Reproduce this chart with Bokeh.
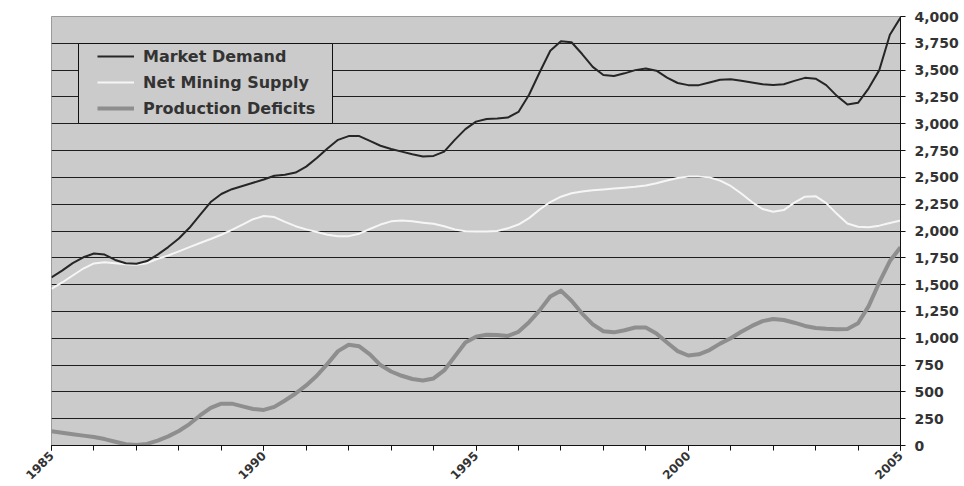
import math
from bokeh.plotting import figure
from bokeh.models import (Range1d, FixedTicker, NumeralTickFormatter, Legend,
                          LegendItem, BoxAnnotation)
from bokeh.embed import file_html
from bokeh.resources import INLINE

# quarter-year sample positions, 1985 .. 2005
years = [1985 + 0.25 * i for i in range(81)]

market_demand = [
    1568, 1630, 1700, 1755, 1790, 1780, 1730, 1700,   # 1985.00-1986.75
    1695, 1720, 1780, 1850, 1930, 2030, 2150, 2270,   # 1987-1988
    2345, 2390, 2420, 2450, 2480, 2515, 2525, 2545,   # 1989-1990
    2600, 2680, 2770, 2850, 2885, 2885, 2840, 2795,   # 1991-1992
    2765, 2740, 2715, 2695, 2700, 2740, 2850, 2950,   # 1993-1994
    3020, 3045, 3050, 3058, 3110, 3270, 3480, 3681,   # 1995-1996
    3770, 3760, 3650, 3530, 3455, 3445, 3470, 3500,   # 1997-1998
    3515, 3495, 3430, 3380, 3360, 3360, 3385, 3410,   # 1999-2000
    3415, 3400, 3385, 3368, 3362, 3368, 3400, 3428,   # 2001-2002
    3420, 3360, 3260, 3180, 3195, 3330, 3500, 3830,   # 2003-2004
    3990,                                             # 2005
]

net_mining_supply = [
    1460, 1520, 1585, 1650, 1698, 1708, 1700, 1690,
    1686, 1700, 1740, 1772, 1810, 1850, 1888, 1925,
    1965, 2010, 2060, 2110, 2140, 2130, 2085, 2045,
    2015, 1990, 1965, 1950, 1952, 1975, 2019, 2060,
    2090, 2097, 2090, 2078, 2068, 2045, 2015, 1997,
    1995, 1995, 2000, 2025, 2060, 2120, 2200, 2270,
    2320, 2352, 2368, 2380, 2388, 2396, 2404, 2412,
    2425, 2445, 2470, 2495, 2507, 2507, 2500, 2470,
    2420, 2350, 2270, 2205, 2180, 2195, 2265, 2320,
    2325, 2260, 2160, 2070, 2040, 2035, 2050, 2075,
    2097,
]

production_deficits = [
    133, 118, 105, 92, 80, 60, 35, 12,
    5, 15, 45, 85, 135, 200, 280, 350,
    390, 390, 365, 340, 332, 360, 420, 485,
    560, 650, 761, 880, 940, 925, 850, 750,
    690, 650, 620, 606, 625, 700, 830, 960,
    1015, 1032, 1030, 1022, 1060, 1150, 1260, 1390,
    1444, 1350, 1230, 1130, 1065, 1055, 1075, 1100,
    1100, 1045, 960, 880, 839, 850, 890, 950,
    1000, 1060, 1115, 1160, 1180, 1170, 1145, 1115,
    1095, 1088, 1085, 1087, 1140, 1300, 1520, 1720,
    1848,
]

series_names = ["Market Demand", "Net Mining Supply", "Production Deficits"]
y_ticks = [0, 250, 500, 750, 1000, 1250, 1500, 1750, 2000, 2250, 2500,
           2750, 3000, 3250, 3500, 3750, 4000]
x_label_ticks = [1985, 1990, 1995, 2000, 2005]
x_minor_ticks = list(range(1985, 2006))

p = figure(width=964, height=486, x_range=Range1d(1985, 2005),
           y_range=Range1d(0, 4000), output_backend="svg",
           toolbar_location=None, y_axis_location="right",
           min_border_left=51, min_border_right=64,
           min_border_top=16, min_border_bottom=41)

p.background_fill_color = "#cbcbcb"
p.border_fill_color = "white"
p.outline_line_color = "#9a9a9a"
p.outline_line_width = 1

p.xgrid.visible = False
p.ygrid.ticker = FixedTicker(ticks=y_ticks[1:-1])
p.ygrid.grid_line_color = "#1e1e1e"
p.ygrid.grid_line_width = 1

ya = p.yaxis[0]
ya.ticker = FixedTicker(ticks=y_ticks)
ya.formatter = NumeralTickFormatter(format="0,0")
ya.major_tick_out = 5
ya.major_tick_in = 0
ya.minor_tick_line_color = None
ya.axis_line_color = "#111111"
ya.major_tick_line_color = "#111111"
ya.major_label_standoff = 9
ya.major_label_text_font = "DejaVu Sans"
ya.major_label_text_font_style = "bold"
ya.major_label_text_font_size = "14px"
ya.major_label_text_color = "#333333"

xa = p.xaxis[0]
xa.ticker = FixedTicker(ticks=x_label_ticks, minor_ticks=x_minor_ticks)
xa.major_tick_out = 5
xa.major_tick_in = 0
xa.minor_tick_out = 5
xa.minor_tick_in = 0
xa.axis_line_color = "#111111"
xa.major_tick_line_color = "#111111"
xa.minor_tick_line_color = "#111111"
xa.major_label_orientation = math.pi / 4
xa.major_label_standoff = 3
xa.major_label_text_font = "DejaVu Sans"
xa.major_label_text_font_style = "bold"
xa.major_label_text_font_size = "12px"
xa.major_label_text_color = "#333333"

r_sup = p.line(years, net_mining_supply, line_color="#f6f6f6", line_width=2,
               line_join="round")
r_def = p.line(years, production_deficits, line_color="#8e8e8e", line_width=4,
               line_join="round")
r_dem = p.line(years, market_demand, line_color="#262626", line_width=2,
               line_join="round")

box = BoxAnnotation(left=27, right=281, top=402, bottom=322,
                    left_units="screen", right_units="screen",
                    top_units="screen", bottom_units="screen",
                    fill_color="#cbcbcb", fill_alpha=1.0,
                    line_color="#111111", line_width=1, line_alpha=1.0)
p.add_layout(box)

legend = Legend(items=[LegendItem(label=series_names[0], renderers=[r_dem]),
                       LegendItem(label=series_names[1], renderers=[r_sup]),
                       LegendItem(label=series_names[2], renderers=[r_def])],
                location=(43, 324), padding=3, spacing=6, margin=0,
                glyph_width=37, glyph_height=20, label_height=20,
                label_standoff=9,
                label_text_font="DejaVu Sans", label_text_font_style="bold",
                label_text_font_size="16px", label_text_color="#333333",
                background_fill_alpha=0, border_line_alpha=0)
p.add_layout(legend)

open("out.html", "w").write(file_html(p, INLINE))
